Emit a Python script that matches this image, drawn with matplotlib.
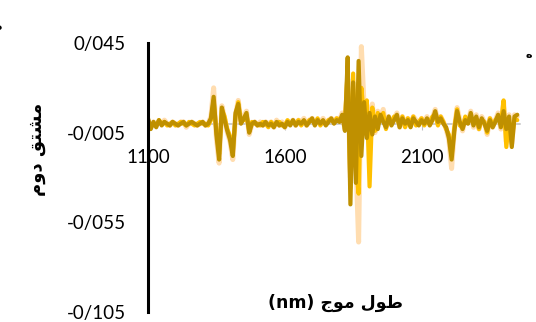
import matplotlib
matplotlib.use("Agg")
import matplotlib.pyplot as plt

# wavelength categories (nm)
wavelength = list(range(1100, 2451, 10))

# second-derivative spectra (three samples)
dark_series = [
    0.003, -0.003, 0.001, -0.002, 0.002, -0.001, 0.001, 0.000, -0.001, 0.001,   # 1100-1190
    0.000, -0.001, 0.000, 0.001, -0.001, 0.000, 0.001, 0.000, -0.001, 0.000,    # 1200-1290
    0.001, -0.001, 0.000, 0.003, 0.015, -0.006, -0.020, 0.009, 0.002, -0.004,   # 1300-1390
    -0.009, -0.018, 0.006, 0.011, 0.000, 0.003, 0.006, -0.005, 0.000, 0.001,    # 1400-1490
    -0.001, 0.000, -0.001, 0.001, -0.001, 0.000, -0.002, 0.001, -0.001, 0.000,  # 1500-1590
    -0.002, 0.001, -0.001, 0.002, -0.001, 0.001, 0.000, 0.002, -0.001, 0.001,   # 1600-1690
    0.003, -0.001, 0.002, 0.000, 0.002, -0.001, 0.001, 0.003, 0.000, 0.002,     # 1700-1790
    0.001, 0.005, -0.004, 0.037, -0.045, 0.023, -0.033, 0.035, -0.018, 0.012,   # 1800-1890
    -0.008, 0.006, -0.006, 0.004, -0.003, 0.005, 0.001, -0.002, 0.004, -0.001,  # 1900-1990
    0.002, 0.005, -0.002, 0.003, 0.000, 0.002, -0.002, 0.003, 0.001, -0.001,    # 2000-2090
    0.002, 0.000, 0.003, -0.001, 0.002, 0.007, 0.001, 0.003, 0.000, -0.002,     # 2100-2190
    -0.008, -0.020, -0.004, 0.007, 0.001, -0.003, 0.002, 0.000, 0.006, -0.001,  # 2200-2290
    0.004, -0.002, 0.003, 0.000, -0.004, 0.002, -0.002, 0.001, 0.005, -0.002,   # 2300-2390
    0.007, -0.003, 0.004, -0.013, 0.004, 0.005,                                 # 2400-2450
]
gold_series = [
    0.002, -0.002, 0.000, -0.001, 0.002, 0.000, 0.001, -0.001, 0.000, 0.001,
    -0.001, 0.000, 0.001, 0.000, -0.001, 0.001, 0.000, -0.001, 0.000, 0.001,
    0.000, 0.000, -0.001, 0.002, 0.013, -0.004, -0.017, 0.008, 0.004, -0.003,
    -0.007, -0.016, 0.004, 0.012, 0.001, 0.002, 0.005, -0.004, 0.001, 0.000,
    0.000, -0.001, 0.001, 0.000, -0.002, 0.001, -0.001, 0.000, 0.001, -0.001,
    -0.001, 0.002, 0.000, 0.001, 0.000, 0.002, -0.001, 0.001, 0.000, 0.002,
    0.002, 0.000, 0.003, -0.001, 0.001, 0.000, 0.002, 0.002, 0.001, 0.003,
    0.002, 0.004, 0.002, 0.030, -0.036, 0.028, -0.024, -0.039, 0.020, 0.004,
    0.013, -0.035, 0.009, -0.004, 0.006, 0.002, 0.006, -0.003, 0.003, 0.001,
    0.004, 0.003, -0.001, 0.004, -0.002, 0.003, 0.000, 0.004, -0.001, 0.001,
    0.003, -0.001, 0.002, 0.001, 0.004, 0.005, -0.001, 0.004, 0.001, -0.003,
    -0.006, -0.018, -0.002, 0.008, -0.001, -0.002, 0.004, 0.001, 0.004, 0.000,
    0.003, -0.003, 0.002, 0.001, -0.005, 0.003, -0.001, 0.002, 0.004, 0.000,
    0.013, -0.013, 0.002, -0.008, 0.003, 0.002,
]
peach_series = [
    0.002, -0.002, 0.001, -0.001, 0.001, 0.000, 0.002, 0.000, -0.001, 0.001,
    0.000, -0.001, 0.001, 0.001, -0.002, 0.000, 0.001, 0.000, -0.001, 0.000,
    0.001, -0.001, 0.000, 0.004, 0.020, -0.008, -0.022, 0.010, 0.003, -0.005,
    -0.010, -0.020, 0.005, 0.013, 0.001, 0.004, 0.007, -0.006, 0.000, 0.001,
    -0.001, 0.001, -0.001, 0.001, 0.000, 0.001, -0.002, 0.002, -0.001, 0.001,
    -0.002, 0.001, 0.000, 0.002, -0.001, 0.002, 0.001, 0.003, -0.001, 0.002,
    0.003, 0.000, 0.002, 0.001, 0.003, 0.000, 0.002, 0.003, 0.001, 0.003,
    0.002, 0.006, -0.003, 0.025, -0.030, 0.015, -0.020, -0.066, 0.043, 0.010,
    0.010, -0.012, 0.011, -0.005, 0.007, 0.002, 0.008, -0.002, 0.004, 0.000,
    0.003, 0.006, -0.002, 0.004, -0.001, 0.003, -0.001, 0.004, 0.002, 0.000,
    0.003, 0.001, 0.004, 0.000, 0.003, 0.008, 0.001, 0.004, 0.001, -0.003,
    -0.009, -0.025, -0.003, 0.009, 0.002, -0.004, 0.003, 0.001, 0.007, -0.002,
    0.005, -0.003, 0.004, 0.001, -0.006, 0.003, -0.002, 0.002, 0.006, -0.003,
    0.012, -0.010, 0.005, -0.011, 0.005, 0.004,
]

y_ticks = [-0.105, -0.055, -0.005, 0.045]
y_tick_labels = ["-0/105", "-0/055", "-0/005", "0/045"]
x_ticks = [1100, 1600, 2100]
x_tick_labels = ["1100", "1600", "2100"]

fig = plt.figure(figsize=(5.36, 3.22), dpi=100)
ax = fig.add_axes([148 / 536, 1 - 312 / 322, (520 - 148) / 536, (312 - 43) / 322])

ax.plot(wavelength, peach_series, color="#FFDDB0", lw=3.6, solid_capstyle="round", zorder=2)
ax.plot(wavelength, gold_series, color="#FFC000", lw=3.0, solid_capstyle="round", zorder=2.1)
ax.plot(wavelength, dark_series, color="#BF9000", lw=3.0, solid_capstyle="round", zorder=2.2)

ax.set_xlim(1100, 2460)
ax.set_ylim(-0.105, 0.045)

for s in ("top", "right"):
    ax.spines[s].set_visible(False)
ax.spines["left"].set_color("black")
ax.spines["left"].set_linewidth(2.2)
ax.spines["left"].set_zorder(5)
ax.spines["bottom"].set_position(("data", 0))
ax.spines["bottom"].set_color("#BFBFBF")
ax.spines["bottom"].set_linewidth(1.1)
ax.spines["bottom"].set_zorder(1)

ax.set_xticks(x_ticks)
ax.set_xticklabels(x_tick_labels, fontfamily="Lato")
ax.set_yticks(y_ticks)
ax.set_yticklabels(y_tick_labels, fontfamily="Lato")
ax.tick_params(axis="x", length=4, width=0.8, color="#BFBFBF", pad=14, labelsize=13.5)
ax.tick_params(axis="y", length=0, pad=16, labelsize=13.5)

# Arabic labels (presentation forms in visual order)
fig.text(37 / 536, 1 - 149 / 322, "\uFEE1\uFEED\uFEA9 \uFED6\uFE98\uFEB8\uFEE3",
         rotation=90, ha="center", va="center", fontsize=13, fontweight="bold",
         family=["DejaVu Sans"])
fig.text(335 / 536, 1 - 303 / 322, "(nm) \uFE9D\uFEEE\uFEE3 \uFEDD\uFEEE\uFEC3",
         ha="center", va="center", fontsize=12.5, fontweight="bold",
         family=["DejaVu Sans"])
fig.text(529 / 536, 1 - 55 / 322, "\uFEE9", ha="center", va="center",
         fontsize=8, fontweight="bold", family=["DejaVu Sans"])
fig.text(-2 / 536, 1 - 27 / 322, "\uFEE9", ha="center", va="center",
         fontsize=9, fontweight="bold", family=["DejaVu Sans"])

fig.savefig("out.png", dpi=100)
